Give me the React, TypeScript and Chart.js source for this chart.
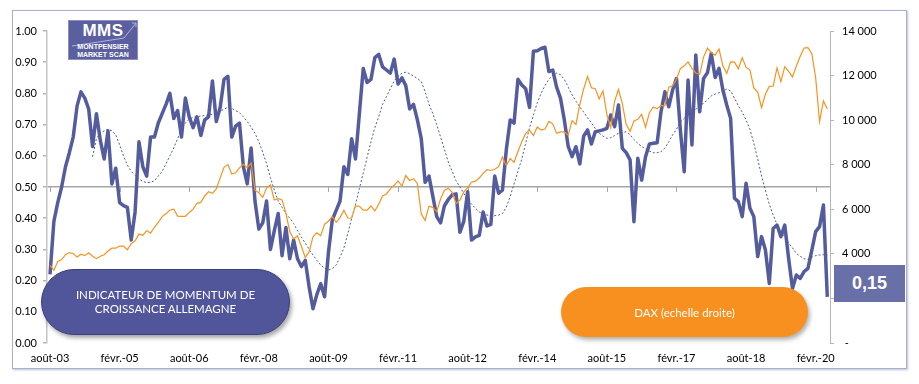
import React, { useEffect, useRef } from 'react';
import { Chart, registerables } from 'chart.js';

Chart.register(...registerables);

// Monthly data, Aug 2003 (index 0) to May 2020 (index 201)
const xTickPositions = [0, 18, 36, 54, 72, 90, 108, 126, 144, 162, 180, 198];
const xTickLabels = ['août-03', 'févr.-05', 'août-06', 'févr.-08', 'août-09', 'févr.-11', 'août-12', 'févr.-14', 'août-15', 'févr.-17', 'août-18', 'févr.-20'];

const momentum = [
  0.22, 0.39, 0.45, 0.50, 0.565, 0.61, 0.66, 0.76, 0.805, 0.785,
  0.75, 0.63, 0.735, 0.65, 0.59, 0.68, 0.51, 0.56, 0.45, 0.44,
  0.435, 0.33, 0.42, 0.645, 0.565, 0.535, 0.66, 0.66, 0.705, 0.735,
  0.765, 0.80, 0.72, 0.745, 0.66, 0.785, 0.725, 0.69, 0.725, 0.665,
  0.715, 0.725, 0.84, 0.71, 0.755, 0.845, 0.855, 0.66, 0.695, 0.705,
  0.565, 0.51, 0.625, 0.455, 0.365, 0.385, 0.455, 0.30, 0.36, 0.415,
  0.28, 0.37, 0.27, 0.33, 0.27, 0.245, 0.265, 0.18, 0.11, 0.155,
  0.19, 0.148, 0.29, 0.395, 0.425, 0.455, 0.565, 0.54, 0.655, 0.59,
  0.735, 0.88, 0.835, 0.845, 0.915, 0.925, 0.885, 0.875, 0.865, 0.91,
  0.83, 0.85, 0.825, 0.75, 0.765, 0.715, 0.655, 0.515, 0.535, 0.47,
  0.405, 0.385, 0.44, 0.46, 0.475, 0.478, 0.355, 0.39, 0.485, 0.33,
  0.34, 0.345, 0.42, 0.375, 0.38, 0.535, 0.48, 0.49, 0.62, 0.715,
  0.705, 0.845, 0.827, 0.815, 0.755, 0.935, 0.937, 0.944, 0.948, 0.87,
  0.875, 0.82, 0.785, 0.715, 0.63, 0.597, 0.629, 0.574, 0.663, 0.683,
  0.638, 0.677, 0.68, 0.683, 0.688, 0.731, 0.693, 0.763, 0.624, 0.61,
  0.587, 0.389, 0.592, 0.522, 0.597, 0.638, 0.64, 0.642, 0.741, 0.805,
  0.757, 0.811, 0.848, 0.683, 0.549, 0.843, 0.635, 0.923, 0.741, 0.848,
  0.866, 0.928, 0.851, 0.88, 0.811, 0.763, 0.72, 0.464, 0.453, 0.405,
  0.512, 0.432, 0.405, 0.277, 0.341, 0.298, 0.191, 0.367, 0.378, 0.341,
  0.378, 0.271, 0.175, 0.218, 0.207, 0.229, 0.239, 0.298, 0.357, 0.373,
  0.442, 0.148,
];

// 12-month average of the indicator (dotted), starts at index 11
const momentumAvgStart = 11;
const momentumAvg = [
  0.597, 0.655, 0.672, 0.68, 0.685, 0.68, 0.667, 0.635, 0.6, 0.57,
  0.55, 0.537, 0.525, 0.518, 0.514, 0.515, 0.52, 0.535, 0.55, 0.575,
  0.6, 0.625, 0.655, 0.685, 0.705, 0.718, 0.723, 0.726, 0.727, 0.729,
  0.731, 0.733, 0.736, 0.742, 0.75, 0.755, 0.752, 0.745, 0.738, 0.725,
  0.71, 0.692, 0.672, 0.645, 0.612, 0.575, 0.53, 0.49, 0.455, 0.435,
  0.415, 0.4, 0.383, 0.36, 0.34, 0.32, 0.3, 0.282, 0.265, 0.25,
  0.24, 0.234, 0.238, 0.25, 0.275, 0.305, 0.35, 0.4, 0.445, 0.495,
  0.545, 0.595, 0.645, 0.69, 0.725, 0.765, 0.79, 0.815, 0.84, 0.855,
  0.865, 0.868, 0.863, 0.855, 0.848, 0.838, 0.805, 0.765, 0.735, 0.7,
  0.66, 0.62, 0.58, 0.55, 0.52, 0.5, 0.48, 0.458, 0.445, 0.432,
  0.42, 0.414, 0.41, 0.408, 0.408, 0.41, 0.415, 0.435, 0.47, 0.51,
  0.55, 0.59, 0.64, 0.69, 0.73, 0.77, 0.8, 0.825, 0.845, 0.858,
  0.865, 0.86, 0.845, 0.82, 0.795, 0.775, 0.757, 0.74, 0.722, 0.705,
  0.688, 0.672, 0.663, 0.656, 0.658, 0.665, 0.672, 0.675, 0.677, 0.668,
  0.652, 0.64, 0.63, 0.622, 0.615, 0.61, 0.61, 0.613, 0.625, 0.645,
  0.667, 0.685, 0.708, 0.72, 0.728, 0.735, 0.748, 0.762, 0.768, 0.78,
  0.792, 0.798, 0.802, 0.806, 0.814, 0.808, 0.785, 0.76, 0.74, 0.715,
  0.685, 0.64, 0.59, 0.535, 0.49, 0.445, 0.41, 0.38, 0.36, 0.34,
  0.32, 0.305, 0.287, 0.278, 0.27, 0.268, 0.275, 0.28, 0.282, 0.283,
  0.282,
];

const dax = [
  3484, 3257, 3656, 3745, 3965,
  4059, 4018, 3856, 3985, 3921, 4052, 3895, 3785, 3893, 3960, 4126, 4256,
  4255, 4350, 4349, 4185, 4460, 4586, 4887, 4830, 5044, 4929, 5193, 5408,
  5674, 5796, 5970, 6009, 5692, 5683, 5682, 5859, 6004, 6269, 6309, 6597,
  6789, 6716, 6917, 7409, 7883, 8007, 7584, 7638, 7861, 8020, 7871, 8067,
  6851, 6748, 6535, 6949, 7097, 6418, 6479, 6422, 5831, 4988, 4669, 4810,
  4338, 3843, 4085, 4770, 4941, 4809, 5332, 5465, 5675, 5415, 5625, 5957,
  5608, 5598, 6154, 6136, 5964, 5966, 6148, 5925, 6229, 6601, 6688, 6914,
  7077, 7273, 7041, 7514, 7294, 7376, 7159, 5785, 5502, 6141, 6089, 5898,
  6458, 6856, 6947, 6761, 6264, 6416, 6772, 6971, 7216, 7260, 7405, 7612,
  7776, 7742, 7795, 7914, 8349, 7959, 8276, 8104, 8594, 9034, 9406, 9552,
  9306, 9692, 9556, 9603, 9943, 9833, 9407, 9470, 9474, 9327, 9980, 9806,
  10694, 11402, 11966, 11454, 11413, 10945, 11309, 10259, 9660, 10850, 11382, 10743,
  9798, 9495, 9965, 10039, 10263, 9680, 10337, 10593, 10511, 10665, 10640, 11481,
  11535, 11834, 12313, 12438, 12615, 12325, 12118, 12056, 12829, 13230, 13024, 12918,
  13189, 12436, 12097, 12612, 12605, 12306, 12806, 12364, 12247, 11448, 11257, 10559,
  11173, 11516, 11526, 12344, 11727, 12399, 12189, 11939, 12428, 12867, 13236, 13249,
  12981, 11890, 9936, 10862, 10500,
];

const lastValueLabel = '0,15';

const FONT = 'Lato, "Noto Sans", sans-serif';

const midLineTicks = {
  id: 'midLineTicks',
  beforeDatasetsDraw(chart: any) {
    const xs = chart.scales.x;
    const ys = chart.scales.y;
    const py = ys.getPixelForValue(0.5);
    const ctx = chart.ctx;
    ctx.save();
    ctx.strokeStyle = '#a6a6a6';
    ctx.lineWidth = 1;
    xTickPositions.forEach((p) => {
      const px = Math.round(xs.getPixelForValue(p)) + 0.5;
      ctx.beginPath();
      ctx.moveTo(px, py);
      ctx.lineTo(px, py + 5);
      ctx.stroke();
    });
    ctx.restore();
  },
};

export default function App() {
  const canvasRef = useRef<HTMLCanvasElement | null>(null);

  useEffect(() => {
    if (!canvasRef.current) return;
    const chart = new Chart(canvasRef.current, {
      type: 'line',
      data: {
        datasets: [
          {
            label: 'DAX',
            data: dax.map((v, i) => ({ x: i, y: v })),
            yAxisID: 'y2',
            borderColor: '#f7931e',
            borderWidth: 1.2,
            pointRadius: 0,
            tension: 0,
          },
          {
            label: 'Moyenne',
            data: momentumAvg.map((v, i) => ({ x: i + momentumAvgStart, y: v })),
            yAxisID: 'y',
            borderColor: '#4b5a92',
            borderWidth: 1,
            borderDash: [2, 2],
            pointRadius: 0,
            tension: 0,
          },
          {
            label: 'Indicateur',
            data: momentum.map((v, i) => ({ x: i, y: v })),
            yAxisID: 'y',
            borderColor: '#545c9e',
            borderWidth: 3.5,
            pointRadius: 0,
            tension: 0,
            borderJoinStyle: 'round',
          },
        ],
      },
      options: {
        animation: false,
        responsive: false,
        devicePixelRatio: 1,
        layout: { padding: { top: 31, left: 0, right: 0, bottom: 0 } },
        plugins: { legend: { display: false }, tooltip: { enabled: false } },
        scales: {
          x: {
            type: 'linear',
            min: -0.78,
            max: 201.7,
            grid: { display: false, drawTicks: false },
            border: { display: false },
            afterBuildTicks: (scale: any) => {
              scale.ticks = xTickPositions.map((v) => ({ value: v }));
            },
            afterFit: (scale: any) => {
              scale.height = 41;
            },
            ticks: {
              autoSkip: false,
              maxRotation: 0,
              padding: 9,
              color: '#000',
              font: { family: FONT, size: 11 },
              callback: (v: any) => {
                const k = xTickPositions.indexOf(Number(v));
                return k >= 0 ? xTickLabels[k] : '';
              },
            },
          },
          y: {
            position: 'left',
            min: 0,
            max: 1,
            afterFit: (scale: any) => {
              scale.width = 47;
            },
            ticks: {
              stepSize: 0.1,
              padding: 6,
              color: '#000',
              font: { family: FONT, size: 11 },
              callback: (v: any) => Number(v).toFixed(2),
            },
            grid: {
              drawOnChartArea: true,
              color: (c: any) => (c.tick && Math.abs(c.tick.value - 0.5) < 1e-6 ? '#a6a6a6' : 'rgba(0,0,0,0)'),
              tickColor: '#b5b5b5',
              tickLength: 4,
              lineWidth: 1.5,
            },
            border: { display: true, color: '#c4c4c4', width: 1.5 },
          },
          y2: {
            position: 'right',
            min: 0,
            max: 14000,
            afterFit: (scale: any) => {
              scale.width = 89;
            },
            ticks: {
              stepSize: 2000,
              padding: 8,
              color: '#000',
              font: { family: FONT, size: 11 },
              callback: (v: any) => {
                const n = Number(v);
                if (n === 0) return ' -';
                return n.toString().replace(/\B(?=(\d{3})+(?!\d))/g, ' ');
              },
            },
            grid: { drawOnChartArea: false, tickColor: '#b5b5b5', tickLength: 4 },
            border: { display: true, color: '#b5b5b5', width: 1 },
          },
        },
      },
      plugins: [midLineTicks],
    } as any);
    return () => chart.destroy();
  }, []);

  return (
    <div style={{ position: 'absolute', left: 0, top: 0, width: 919, height: 384, background: '#fff', overflow: 'hidden' }}>
      <div
        style={{
          position: 'absolute',
          left: 12,
          top: 10,
          width: 893,
          height: 357,
          border: '1.5px solid #a8b0cb',
          boxShadow: '1px 1px 2px rgba(120,130,170,0.5)',
        }}
      />
      <canvas ref={canvasRef} width={919} height={384} style={{ position: 'absolute', left: 0, top: 0, width: 919, height: 384 }} />

      {/* Logo */}
      <div
        style={{
          position: 'absolute',
          left: 68,
          top: 20,
          width: 70,
          height: 40,
          background: '#5b5f9f',
          border: '1px solid #8a8fbf',
          boxSizing: 'border-box',
          color: '#fff',
          fontFamily: '"Liberation Sans", Arial, sans-serif',
          fontWeight: 700,
        }}
      >
        <svg width={70} height={40} style={{ position: 'absolute', left: -1, top: -1 }}>
          <polyline points="4,26 24,23 56,18 68,3" fill="none" stroke="#aeb3e0" strokeWidth={1} />
          <polyline points="64,3 68,3 68,7" fill="none" stroke="#aeb3e0" strokeWidth={1} />
        </svg>
        <div style={{ position: 'absolute', left: 0, top: 1, width: 68, textAlign: 'center', fontSize: 17, lineHeight: '18px', letterSpacing: 0.5 }}>MMS</div>
        <div style={{ position: 'absolute', left: 0, top: 22, width: 68, textAlign: 'center', fontSize: 7, lineHeight: '8px' }}>MONTPENSIER</div>
        <div style={{ position: 'absolute', left: 0, top: 30, width: 68, textAlign: 'center', fontSize: 7, lineHeight: '8px' }}>MARKET SCAN</div>
      </div>

      {/* Blue legend pill */}
      <div
        style={{
          position: 'absolute',
          left: 41,
          top: 269,
          width: 249,
          height: 66,
          borderRadius: 33,
          background: '#51569a',
          border: '1.5px solid #3a3f7e',
          boxSizing: 'border-box',
          boxShadow: '2px 3px 4px rgba(0,0,0,0.35)',
          display: 'flex',
          alignItems: 'center',
          justifyContent: 'center',
          textAlign: 'center',
          color: '#fff',
          fontFamily: FONT,
          fontSize: 11.5,
          lineHeight: '14px',
        }}
      >
        <div>
          INDICATEUR DE MOMENTUM DE
          <br />
          CROISSANCE ALLEMAGNE
        </div>
      </div>

      {/* Orange legend pill */}
      <div
        style={{
          position: 'absolute',
          left: 561,
          top: 287,
          width: 247,
          height: 50,
          borderRadius: 25,
          background: '#f8901f',
          boxShadow: '2px 3px 4px rgba(0,0,0,0.3)',
          display: 'flex',
          alignItems: 'center',
          justifyContent: 'center',
          color: '#fff',
          fontFamily: FONT,
          fontSize: 11.5,
        }}
      >
        DAX (echelle droite)
      </div>

      {/* Last value box */}
      <div
        style={{
          position: 'absolute',
          left: 834,
          top: 265,
          width: 71,
          height: 37,
          background: '#6970a8',
          display: 'flex',
          alignItems: 'center',
          justifyContent: 'center',
          color: '#fff',
          fontFamily: '"Liberation Sans", Arial, sans-serif',
          fontWeight: 700,
          fontSize: 18,
        }}
      >
        {lastValueLabel}
      </div>
    </div>
  );
}
